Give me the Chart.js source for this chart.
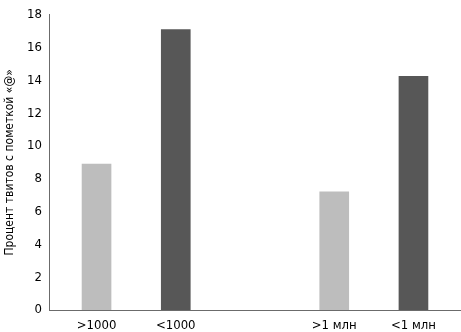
<!DOCTYPE html>
<html>
<head>
<meta charset="utf-8">
<script src="https://cdn.jsdelivr.net/npm/chart.js@4"></script>
<style>
  html, body { margin: 0; padding: 0; background: #fff; }
  #wrap { width: 461px; height: 332px; }
</style>
</head>
<body>
<div id="wrap"><canvas id="tweetChart"></canvas></div>
<script>
/* Share of tweets with "@" by follower count */

// '' is the empty slot between the two pairs
const categories = [">1000", "<1000", "", ">1 млн", "<1 млн"];
const values = [8.9, 17.1, null, 7.2, 14.25];
const barColors = ["#bdbdbd", "#575757", null, "#bdbdbd", "#575757"];
const yTitle = "Процент твитов с пометкой «@»";

const fontFamily = "'DejaVu Sans Condensed', 'Liberation Sans Narrow', sans-serif";

const points = [];
const colors = [];
categories.forEach((c, i) => {
    if (values[i] === null) return;
    points.push({ x: i, y: values[i] });
    colors.push(barColors[i]);
});

new Chart(document.getElementById("tweetChart"), {

    type: "bar",

    data: {
        datasets: [{
            data: points,
            backgroundColor: colors,
            borderWidth: 0,
            barThickness: 29
        }]
    },

    options: {
        responsive: true,
        maintainAspectRatio: false,
        animation: false,
        layout: {
            padding: { top: 11, right: 0, left: 0, bottom: 0 }
        },
        plugins: {
            legend: { display: false },
            tooltip: { enabled: false }
        },
        scales: {
            x: {
                type: "linear",
                offset: false,
                min: -0.6,
                max: 4.6,
                grid: { display: false, drawTicks: false },
                border: { display: true, color: "#6b6b6b", width: 1 },
                afterBuildTicks: (scale) => {
                    scale.ticks = categories
                        .map((c, i) => ({ value: i, label: c }))
                        .filter(t => t.label !== "");
                },
                ticks: {
                    autoSkip: false,
                    maxRotation: 0,
                    padding: 8,
                    color: "#000",
                    font: { family: fontFamily, size: 13 },
                    callback: (value) => categories[value]
                },
                afterFit: (scale) => { scale.height = 22; }
            },
            y: {
                min: 0,
                max: 18,
                grid: { display: false, drawTicks: false },
                border: { display: true, color: "#6b6b6b", width: 1 },
                ticks: {
                    stepSize: 2,
                    padding: 7,
                    color: "#000",
                    font: { family: fontFamily, size: 13 }
                },
                title: {
                    display: true,
                    text: yTitle,
                    color: "#000",
                    padding: { top: 3, bottom: 3 },
                    font: { family: fontFamily, size: 12 }
                },
                afterFit: (scale) => { scale.width = 49; }
            }
        }
    }

});
</script>
</body>
</html>
